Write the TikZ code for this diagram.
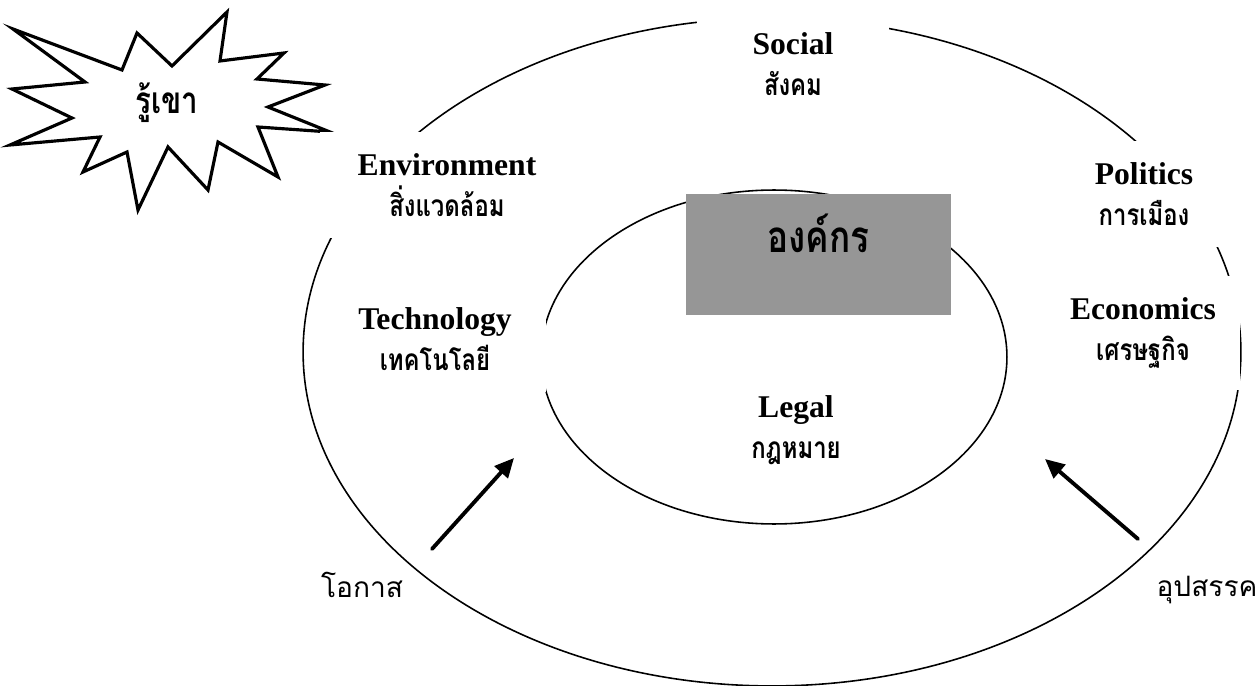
\documentclass[tikz,border=0pt]{standalone}
\usepackage{fontspec}
\setmainfont{Liberation Serif}
\newfontfamily\thaibold[Script=Thai,FakeStretch=0.8]{Loma}
\newfontfamily\thaiplain[Script=Thai]{Loma}
\usepackage{xcolor}
\usepackage{tikz}
\usetikzlibrary{arrows.meta}
\definecolor{boxgray}{HTML}{969696}
\newcommand{\thaisub}[1]{{\thaibold\fontsize{17}{23.5}\selectfont #1}}

\tikzset{
  ring/.style={line width=0.9pt},
  pest/.style={fill=white, inner xsep=0pt, inner ysep=12pt, align=center, anchor=north,
    font=\fontsize{18}{23.5}\selectfont\bfseries},
  push/.style={line width=2.2pt, -{Triangle[length=11pt,width=10pt]}},
  side/.style={font=\thaiplain\fontsize{16}{18}\selectfont},
}

\begin{document}
\begin{tikzpicture}[x=0.02cm,y=-0.02cm,line cap=round,line join=round]
\useasboundingbox (0,0) rectangle (1259,686);
% the two rings
\draw[ring] (772,352) ellipse [x radius=9.38cm, y radius=6.68cm];
\draw[ring] (774,357) ellipse [x radius=4.66cm, y radius=3.34cm];
% starburst
\draw[line width=1.8pt, line join=miter, fill=white] (13,29) -- (122,70) -- (137,33) -- (172,66)
  -- (227,12) -- (220,61) -- (284,53) -- (257,79) -- (325,85) -- (268,107) -- (330,132)
  -- (258,127) -- (278,177) -- (218,142) -- (208,190) -- (168,147) -- (138,210) -- (127,152)
  -- (83,172) -- (100,137) -- (10,145) -- (72,118) -- (12,89) -- (85,82) -- cycle;
\node[font=\thaibold\bfseries\fontsize{21}{23}\selectfont] (know) at (167,103) {รู้เขา};
% PEST labels
\node[pest, minimum width=3.84cm] (social) at (793,11) {Social\\\thaisub{สังคม}};
\node[pest, minimum width=5.1cm] (env) at (447,132) {Environment\\\thaisub{สิ่งแวดล้อม}};
\node[pest, minimum width=4cm] (pol) at (1144,141) {Politics\\\thaisub{การเมือง}};
\node[pest, minimum width=3.9cm] (eco) at (1143,276) {Economics\\\thaisub{เศรษฐกิจ}};
\node[pest, minimum width=4.44cm] (tech) at (435,286) {Technology\\\thaisub{เทคโนโลยี}};
\node[pest, minimum width=3.8cm] (legal) at (796,374) {Legal\\\thaisub{กฎหมาย}};
% organisation box
\node[fill=boxgray, minimum width=5.3cm, inner sep=0pt, text height=1.18cm, text depth=1.24cm,
  font=\thaibold\bfseries\fontsize{25}{27}\selectfont] (org) at (818.5,254.5) {องค์กร};
% opportunities and threats
\coordinate (oppfrom) at (432,549);
\coordinate (oppto) at (514,458);
\coordinate (thrfrom) at (1138,539);
\coordinate (thrto) at (1045,459);
\draw[push] (oppfrom) -- (oppto);
\draw[push] (thrfrom) -- (thrto);
\node[side] (opp) at (362,585) {โอกาส};
\node[side] (thr) at (1207,590) {อุปสรรค};
\end{tikzpicture}
\end{document}
